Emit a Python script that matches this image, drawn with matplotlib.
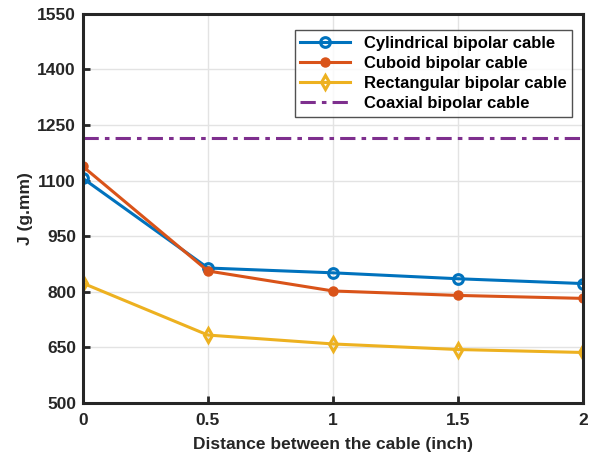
import matplotlib
matplotlib.use("Agg")
from matplotlib import pyplot as plt

distance = [0, 0.5, 1, 1.5, 2]
cylindrical = [1106, 864, 851, 835, 822]
cuboid = [1138, 856, 802, 790, 782]
rectangular = [823, 683, 659, 644, 636]
coaxial = [1215, 1215, 1215, 1215, 1215]

y_ticks = [500, 650, 800, 950, 1100, 1250, 1400, 1550]
x_ticks = [0, 0.5, 1, 1.5, 2]
x_labels = ["0", "0.5", "1", "1.5", "2"]

plt.rcParams['font.family'] = ['Liberation Sans', 'DejaVu Sans']
plt.rcParams['font.weight'] = 'bold'

fig = plt.figure(figsize=(5.92, 4.62), dpi=100)
ax = fig.add_axes([0.140, 0.128, 0.845, 0.842])

ax.plot(distance, cylindrical, color='#0072BD', lw=2.2, marker='o', ms=7,
        mfc='none', mew=2.2, label='Cylindrical bipolar cable')
ax.plot(distance, cuboid, color='#D95319', lw=2.2, marker='o', ms=6.5,
        mfc='#D95319', label='Cuboid bipolar cable')
ax.plot(distance, rectangular, color='#EDB120', lw=2.2, marker='d', ms=7,
        mfc='none', mew=2.2, label='Rectangular bipolar cable')
ax.plot(distance, coaxial, color='#7E2F8E', lw=2.2, ls=(0, (5, 2, 1.5, 2)),
        label='Coaxial bipolar cable')

ax.set_xlim(0, 2)
ax.set_ylim(500, 1550)
ax.set_xticks(x_ticks)
ax.set_xticklabels(x_labels)
ax.set_yticks(y_ticks)
ax.tick_params(direction='in', length=5, width=2, labelsize=12.5, colors='#262626')
ax.tick_params(axis='x', pad=7)
ax.tick_params(axis='y', pad=5)
ax.grid(True, color='#e3e3e3', lw=1)
ax.set_axisbelow(True)
for s in ax.spines.values():
    s.set_linewidth(2.2)
    s.set_color('#262626')

ax.set_xlabel('Distance between the cable (inch)', fontsize=12.5, fontweight='bold',
              color='#262626', labelpad=7)
ax.set_ylabel('J (g.mm)', fontsize=12.5, fontweight='bold', color='#262626', labelpad=3)

leg = ax.legend(loc='upper right', fontsize=12, frameon=True, fancybox=False,
                edgecolor='#262626', handlelength=3, borderpad=0.35,
                labelspacing=0.3, bbox_to_anchor=(0.995, 0.98))
leg.get_frame().set_linewidth(1)

fig.savefig('out.png', dpi=100)
